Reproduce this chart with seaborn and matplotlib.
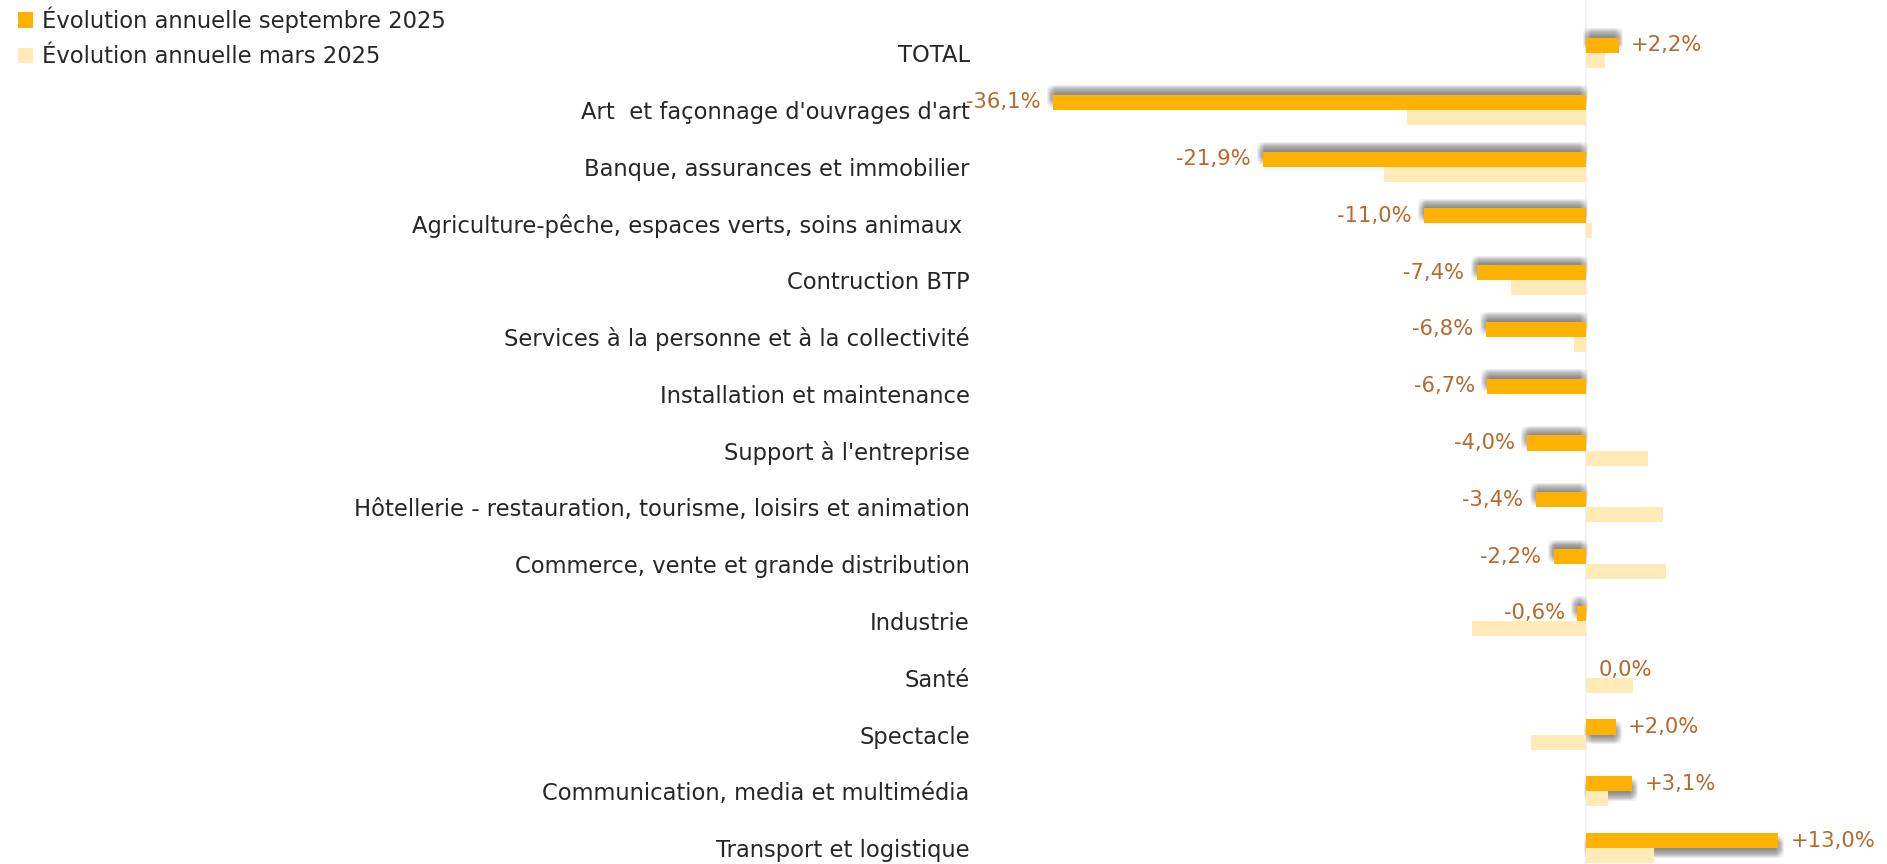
import pandas as pd
import seaborn as sns
import matplotlib.pyplot as plt
import matplotlib.patheffects as pe

categories = ["TOTAL", "Art  et façonnage d'ouvrages d'art", "Banque, assurances et immobilier",
              "Agriculture-pêche, espaces verts, soins animaux ", "Contruction BTP",
              "Services à la personne et à la collectivité", "Installation et maintenance",
              "Support à l'entreprise", "Hôtellerie - restauration, tourisme, loisirs et animation",
              "Commerce, vente et grande distribution", "Industrie", "Santé", "Spectacle",
              "Communication, media et multimédia", "Transport et logistique"]
sept_2025 = [2.2, -36.1, -21.9, -11.0, -7.4, -6.8, -6.7, -4.0, -3.4, -2.2, -0.6, 0.0, 2.0, 3.1, 13.0]
mars_2025 = [1.3, -12.1, -13.7, 0.4, -5.1, -0.8, 0.0, 4.2, 5.2, 5.4, -7.7, 3.2, -3.7, 1.5, 4.6]
series = ["Évolution annuelle septembre 2025", "Évolution annuelle mars 2025"]

orange = "#FFB300"
light = "#FFEAB8"
label_col = "#B5692A"
text_col = "#262626"

df = pd.DataFrame({
    "cat": categories * 2,
    "val": sept_2025 + mars_2025,
    "serie": [series[0]] * len(categories) + [series[1]] * len(categories),
})

sns.set_style("white")
plt.rcParams["font.family"] = ["DejaVu Sans"]

fig = plt.figure(figsize=(18.87, 8.64), dpi=100)
ax = fig.add_axes([985 / 1887, 0, (1880 - 985) / 1887, 1])

sns.barplot(data=df, y="cat", x="val", hue="serie", order=categories, hue_order=series,
            palette=[orange, light], orient="h", width=0.53, saturation=1, linewidth=0,
            ax=ax, legend=True)

ax.set_xlim(-40.7, 19.9)
ax.set_ylim(14.28, -0.933)
ax.axvline(0, color="#f0f0f0", lw=1.2, zorder=0)

# blurred drop shadow on the september bars (box blur made of many faint copies)
for i, (patch, v) in enumerate(zip(ax.containers[0], sept_2025)):
    if v == 0:
        continue
    if i == 0:
        cx, cy = 0.5, 4.0
    elif v < 0:
        cx, cy = -1.5, 4.0
    else:
        cx, cy = 1.5, -4.0
    effects = []
    for dx in range(-4, 5):
        for dy in range(-4, 5):
            effects.append(pe.SimplePatchShadow(offset=(cx + dx * 0.7, cy + dy * 0.7),
                                                shadow_rgbFace="#404040", alpha=0.007))
    effects.append(pe.Normal())
    patch.set_path_effects(effects)

labels = [("+" if v > 0 else "") + f"{v:.1f}".replace(".", ",") + "%" for v in sept_2025]
ax.bar_label(ax.containers[0], labels=labels, padding=9, color=label_col, fontsize=15.2)

ax.set_xlabel("")
ax.set_ylabel("")
ax.set_xticks([])
ax.tick_params(axis="y", length=0, pad=11, labelsize=16.3, labelcolor=text_col)
for s in ax.spines.values():
    s.set_visible(False)

leg = ax.legend(loc="upper left", bbox_to_anchor=(0.005, 1.003), bbox_transform=fig.transFigure,
                frameon=False, fontsize=16.3, handlelength=0.65, handleheight=0.65, handletextpad=0.4,
                labelspacing=0.55, borderaxespad=0)
for t in leg.get_texts():
    t.set_color(text_col)

fig.savefig("out.png", dpi=100)
